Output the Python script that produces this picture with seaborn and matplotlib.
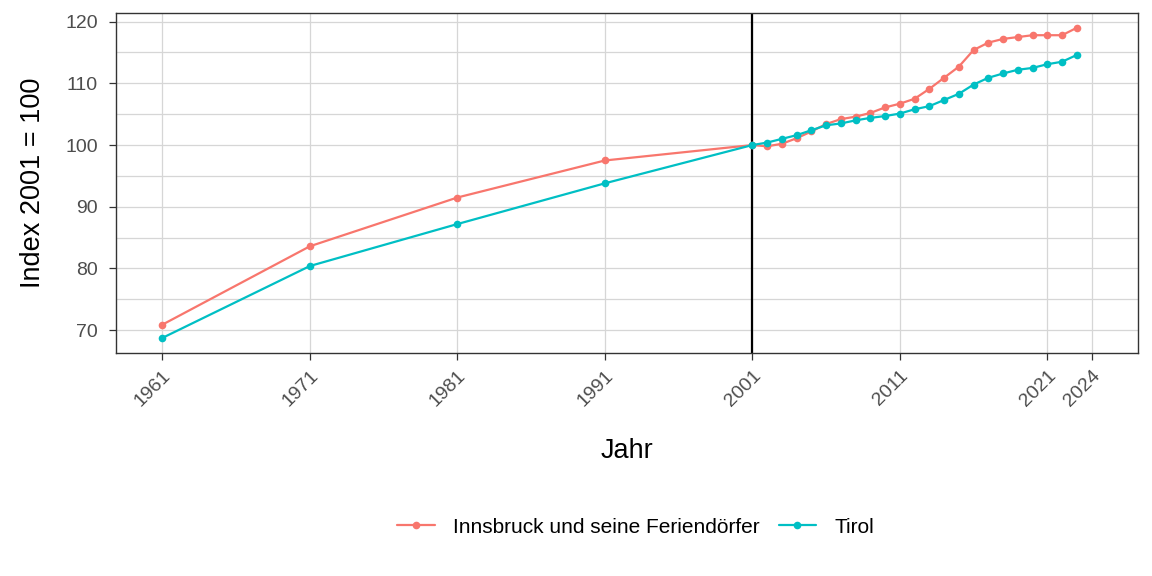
import matplotlib
matplotlib.use("Agg")
import matplotlib.pyplot as plt
import seaborn as sns
import pandas as pd

years = [1961, 1971, 1981, 1991, 2001] + list(range(2002, 2024))
innsbruck = [70.9, 83.6, 91.5, 97.5, 100.0,
             99.8, 100.2, 101.1, 102.2, 103.4, 104.2, 104.6, 105.2, 106.1, 106.7,
             107.5, 109.1, 110.9, 112.7, 115.4, 116.6, 117.2, 117.5, 117.8, 117.8,
             117.8, 119.0]
tirol = [68.75, 80.4, 87.2, 93.8, 100.0,
         100.4, 101.0, 101.6, 102.4, 103.2, 103.5, 104.0, 104.4, 104.7, 105.1,
         105.8, 106.3, 107.3, 108.3, 109.8, 110.9, 111.6, 112.2, 112.5, 113.1,
         113.5, 114.6]
series_names = ["Innsbruck und seine Feriendörfer", "Tirol"]
x_breaks = [1961, 1971, 1981, 1991, 2001, 2011, 2021, 2024]
y_breaks = [70, 80, 90, 100, 110, 120]
colors = ["#F8766D", "#00BFC4"]

df = pd.DataFrame({
    "Jahr": years * 2,
    "Index": innsbruck + tirol,
    "Region": [series_names[0]] * len(years) + [series_names[1]] * len(years),
})

sns.set_theme(style="white")
plt.rcParams["font.family"] = ["Liberation Sans", "DejaVu Sans"]
plt.rcParams["text.color"] = "black"
plt.rcParams["axes.labelcolor"] = "black"

fig = plt.figure(figsize=(11.52, 5.76), dpi=100)
ax = fig.add_axes([116 / 1152, 1 - 353 / 576, (1138 - 116) / 1152, (353 - 13) / 576])

# grid
for v in range(70, 121, 5):
    ax.axhline(v, color="#D6D6D6", lw=0.9, zorder=0)
for xb in x_breaks:
    ax.axvline(xb, color="#D6D6D6", lw=0.9, zorder=0)

ax.axvline(2001, color="black", lw=1.6, zorder=1)

sns.lineplot(data=df, x="Jahr", y="Index", hue="Region", hue_order=series_names,
             palette=colors, marker="o", markersize=5.5, markeredgewidth=0,
             linewidth=1.6, ax=ax, zorder=3)

ax.set_xlim(1957.85, 2027.15)
ax.set_ylim(66.3, 121.4)
ax.set_xticks(x_breaks)
ax.set_xticklabels([str(b) for b in x_breaks], rotation=45, ha="right",
                   rotation_mode="anchor")
ax.set_yticks(y_breaks)
ax.tick_params(axis="both", which="major", length=5, width=0.9, color="#333333",
               labelsize=14, labelcolor="#4D4D4D", bottom=True, left=True)
ax.tick_params(axis="y", pad=8)
ax.tick_params(axis="x", pad=5)
for s in ax.spines.values():
    s.set_color("#333333")
    s.set_linewidth(1.0)

ax.set_xlabel("Jahr", fontsize=19.5, labelpad=20, color="black")
ax.set_ylabel("Index 2001 = 100", fontsize=19.5, labelpad=14, color="black")

ax.get_legend().remove()
handles, labels = ax.get_legend_handles_labels()
leg = fig.legend(handles, labels, loc="center", bbox_to_anchor=(0.552, 0.085), ncol=2,
                 frameon=False, fontsize=15, handlelength=1.8, columnspacing=0.9,
                 handletextpad=0.9)
for t in leg.get_texts():
    t.set_color("black")

fig.savefig("out.png", dpi=100, facecolor="white")
